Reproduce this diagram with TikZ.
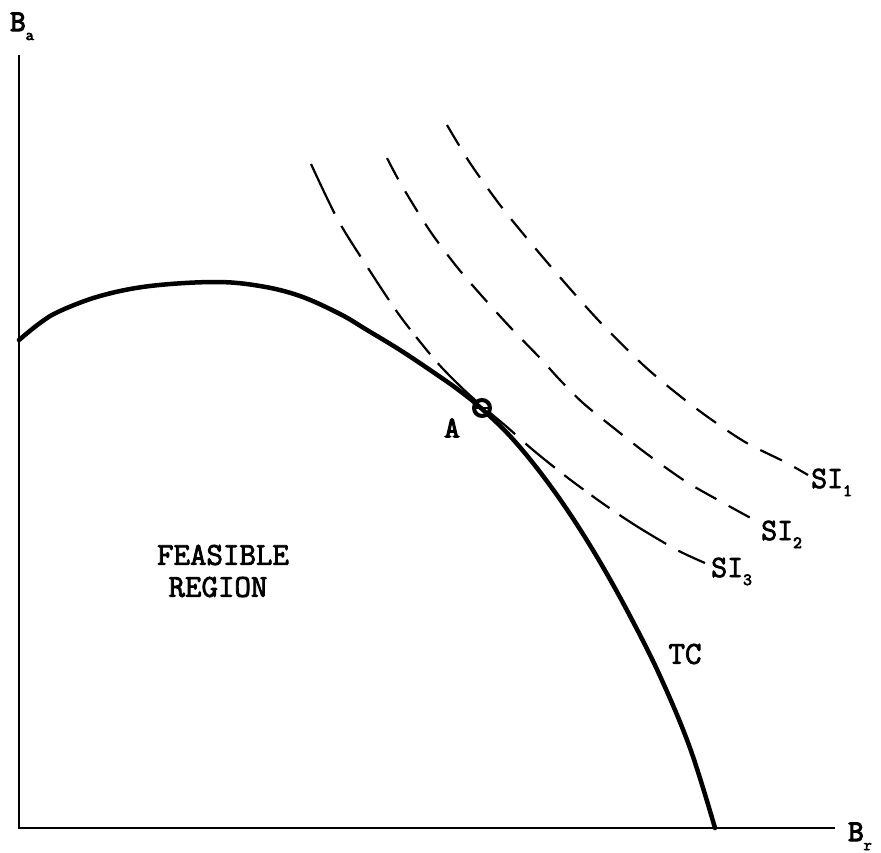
\documentclass[tikz,border=0pt]{standalone}
\usepackage{fontspec}
\newfontfamily\twb{Latin Modern Mono}[FakeBold=2.5]
\newfontfamily\twbb{Latin Modern Mono}[FakeBold=4]
\begin{document}
\begin{tikzpicture}[x=1pt,y=-1pt,
  axisline/.style={line width=2.5pt},
  tcurve/.style={line width=4.5pt,line cap=round,line join=round},
  sicurve/.style={line width=2.2pt,dash pattern=on 24pt off 14pt},
  lbl/.style={inner sep=0pt,font=\twb\fontsize{32}{32}\selectfont},
  blbl/.style={inner sep=0pt,font=\twbb\fontsize{30}{30}\selectfont}]
\useasboundingbox (0,0) rectangle (881,852);
% axes
\coordinate (O) at (19,828);
\coordinate (ytop) at (19,55);
\coordinate (xend) at (835,828);
\draw[axisline] (ytop) -- (O) -- (xend);
\node[blbl,anchor=base west] (Ba) at (10,31) {B\raisebox{-9pt}{\twbb\fontsize{16}{16}\selectfont a}};
\node[blbl,anchor=base west] (Br) at (848,841) {B\raisebox{-9pt}{\twbb\fontsize{16}{16}\selectfont r}};
% transformation curve
\draw[tcurve] plot[smooth,tension=0.6] coordinates {(19,340) (40,323) (60,311) (100,296) (150,286) (215,282) (260,286) (300,296) (340,314) (367,330) (400,350) (433,372) (460,391) (482,409) (510,436) (540,472) (570,514) (600,562) (630,616) (660,676) (690,748) (715,828)};
% social indifference curves
\draw[sicurve] plot[smooth] coordinates {(447,125) (470,163) (500,205) (530,242) (565,283) (600,322) (640,362) (670,388) (705,415) (745,442) (785,462) (808,475)};
\draw[sicurve] plot[smooth] coordinates {(387,158) (402,186) (430,231) (457,267) (481,295) (510,327) (540,358) (560,380) (583,403) (615,429) (647,454) (685,481) (718,500) (758,522)};
\draw[sicurve,dash pattern=on 55pt off 14pt on 36pt off 14pt on 38pt off 12pt on 24pt off 10pt on 22pt off 12pt] plot[smooth] coordinates {(311,164) (338,220) (368,268) (400,316) (435,360) (460,386) (482,406) (507,427) (533,450) (568,478) (605,505) (638,527) (677,550) (705,563)};
% point A
\coordinate (Apt) at (482,408);
\draw[line width=4pt] (Apt) circle (8pt);
\draw[line width=2pt] ([xshift=-8pt]Apt) -- ([xshift=8pt]Apt);
\node[lbl,font=\twbb\fontsize{30}{30}\selectfont] (A) at (452,428) {A};
% labels
\node[lbl,font=\twb\fontsize{32}{32}\selectfont] (feas1) at (223,555) {FEASIBLE};
\node[lbl,font=\twb\fontsize{32}{32}\selectfont] (feas2) at (218,587) {REGION};
\node[lbl] (TC) at (685,654) {TC};
\node[lbl,font=\twb\fontsize{31}{31}\selectfont,anchor=base west] (SI1) at (811,488) {SI\raisebox{-8pt}{\twbb\fontsize{17}{17}\selectfont 1}};
\node[lbl,font=\twb\fontsize{31}{31}\selectfont,anchor=base west] (SI2) at (761,540) {SI\raisebox{-8pt}{\twbb\fontsize{17}{17}\selectfont 2}};
\node[lbl,font=\twb\fontsize{31}{31}\selectfont,anchor=base west] (SI3) at (711,577) {SI\raisebox{-8pt}{\twbb\fontsize{17}{17}\selectfont 3}};
\end{tikzpicture}
\end{document}
